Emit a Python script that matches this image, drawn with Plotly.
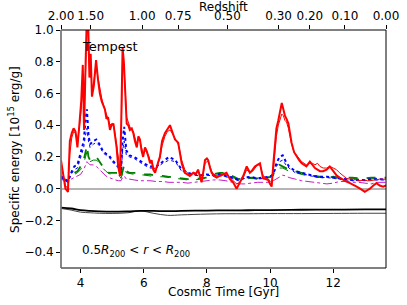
import plotly.graph_objects as go

# ---- data ----
t_red = [3.38,3.45,3.52,3.60,3.66,3.72,3.78,3.84,3.90,3.96,4.02,4.07,4.11,4.16,4.20,4.24,4.28,4.32,4.36,4.42,
         4.49,4.55,4.61,4.67,4.72,4.77,4.82,4.87,4.93,4.98,5.04,5.09,5.14,5.19,5.25,5.29,5.33,5.37,5.41,5.46,
         5.51,5.56,5.62,5.67,5.72,5.78,5.83,5.88,5.93,5.98,6.04,6.09,6.15,6.20,6.25,6.30,6.36,6.41,6.46,6.51,
         6.58,6.67,6.75,6.83,6.90,6.99,7.09,7.15,7.20,7.30,7.38,7.46,7.57,7.65,7.72,7.78,7.83,7.88,7.94,8.00,
         8.04,8.10,8.15,8.22,8.31,8.40,8.52,8.62,8.73,8.83,8.94,9.04,9.15,9.26,9.31,9.36,9.45,9.52,9.60,9.68,
         9.73,9.78,9.86,9.94,10.00,10.05,10.10,10.15,10.20,10.26,10.31,10.37,10.42,10.47,10.52,10.58,10.63,10.68,10.76,10.84,
         10.92,11.00,11.08,11.15,11.26,11.34,11.42,11.50,11.58,11.68,11.79,11.89,12.00,12.10,12.20,12.32,12.42,12.53,12.64,12.74,
         12.85,13.00,13.08,13.16,13.27,13.37,13.47,13.58,13.67]
red_a = [0.18,0.10,0.00,-0.02,0.30,0.35,0.38,0.36,0.26,0.40,0.55,0.78,0.37,0.80,1.10,1.05,0.70,0.85,0.58,0.65,
         0.81,0.69,0.60,0.55,0.52,0.50,0.44,0.45,0.37,0.40,0.41,0.33,0.26,0.14,0.08,0.45,0.89,0.80,0.64,0.41,
         0.40,0.37,0.38,0.35,0.30,0.26,0.33,0.31,0.24,0.20,0.26,0.24,0.20,0.16,0.18,0.12,0.10,0.14,0.17,0.20,
         0.30,0.35,0.38,0.40,0.36,0.31,0.29,0.22,0.16,0.10,0.09,0.08,0.10,0.09,0.12,0.08,0.04,0.10,0.18,0.19,
         0.18,0.13,0.10,0.08,0.07,0.08,0.09,0.10,0.06,0.04,0.00,0.035,0.08,0.14,0.12,0.10,0.12,0.14,0.15,0.16,
         0.11,0.065,0.06,0.055,0.03,0.013,0.15,0.29,0.38,0.43,0.48,0.54,0.50,0.46,0.44,0.41,0.35,0.29,0.23,0.20,
         0.18,0.16,0.15,0.14,0.17,0.15,0.13,0.12,0.11,0.11,0.12,0.14,0.11,0.085,0.07,0.055,0.045,0.035,0.025,0.013,
         0.00,-0.02,-0.01,0.00,0.02,0.035,0.02,0.013,0.02]
red_b = [0.16,0.09,0.02,0.00,0.22,0.32,0.36,0.35,0.30,0.38,0.50,0.70,0.45,0.75,1.05,1.00,0.75,0.80,0.62,0.68,
         0.78,0.70,0.62,0.57,0.53,0.50,0.46,0.44,0.40,0.41,0.40,0.35,0.28,0.18,0.12,0.40,0.82,0.78,0.60,0.45,
         0.42,0.39,0.37,0.36,0.32,0.28,0.31,0.30,0.26,0.22,0.24,0.23,0.21,0.18,0.17,0.14,0.12,0.13,0.16,0.19,
         0.27,0.33,0.36,0.37,0.35,0.32,0.28,0.23,0.18,0.12,0.10,0.09,0.10,0.10,0.11,0.09,0.06,0.09,0.16,0.17,
         0.17,0.14,0.11,0.09,0.08,0.08,0.09,0.09,0.07,0.05,0.03,0.04,0.07,0.12,0.11,0.10,0.11,0.13,0.15,0.15,
         0.12,0.08,0.07,0.06,0.05,0.04,0.10,0.22,0.33,0.40,0.44,0.47,0.46,0.43,0.42,0.38,0.33,0.28,0.23,0.21,
         0.19,0.17,0.16,0.15,0.16,0.16,0.15,0.16,0.14,0.13,0.13,0.14,0.13,0.12,0.10,0.08,0.065,0.06,0.06,0.055,
         0.05,0.055,0.05,0.05,0.055,0.06,0.06,0.06,0.06]

t_c = [3.38,3.5,3.6,3.7,3.8,3.9,4.0,4.1,4.15,4.2,4.25,4.3,4.4,4.5,4.6,4.7,4.8,4.9,5.0,5.1,
       5.2,5.28,5.33,5.38,5.45,5.55,5.7,5.85,6.0,6.2,6.4,6.6,6.8,7.0,7.2,7.4,7.6,7.8,8.0,8.2,
       8.4,8.6,8.8,9.0,9.2,9.4,9.6,9.8,10.0,10.1,10.2,10.3,10.4,10.5,10.6,10.8,11.0,11.2,11.4,11.6,
       11.8,12.0,12.2,12.4,12.6,12.8,13.0,13.2,13.4,13.67]
blue_a = [0.08,0.06,0.045,0.10,0.14,0.15,0.22,0.30,0.42,0.50,0.34,0.28,0.30,0.31,0.28,0.24,0.22,0.21,0.18,0.16,
          0.14,0.10,0.30,0.39,0.24,0.21,0.20,0.18,0.16,0.14,0.14,0.17,0.20,0.18,0.12,0.10,0.09,0.085,0.09,0.085,
          0.09,0.08,0.07,0.055,0.07,0.075,0.065,0.07,0.075,0.09,0.16,0.20,0.21,0.17,0.14,0.11,0.10,0.09,0.08,0.075,
          0.075,0.07,0.065,0.06,0.055,0.055,0.055,0.06,0.058,0.06]
blue_b = [0.07,0.055,0.04,0.09,0.12,0.13,0.19,0.26,0.33,0.38,0.30,0.26,0.28,0.29,0.27,0.23,0.21,0.20,0.17,0.15,
          0.13,0.09,0.24,0.30,0.21,0.20,0.19,0.17,0.15,0.13,0.13,0.16,0.18,0.17,0.11,0.09,0.085,0.08,0.085,0.08,
          0.085,0.075,0.065,0.05,0.065,0.07,0.06,0.065,0.07,0.085,0.14,0.17,0.18,0.15,0.13,0.10,0.095,0.085,0.075,0.07,
          0.07,0.065,0.06,0.055,0.05,0.05,0.05,0.055,0.055,0.055]
green_a = [0.07,0.06,0.05,0.08,0.10,0.11,0.14,0.18,0.22,0.27,0.20,0.18,0.19,0.20,0.17,0.14,0.12,0.10,0.10,0.10,
           0.10,0.07,0.12,0.15,0.11,0.10,0.10,0.10,0.09,0.09,0.08,0.08,0.075,0.07,0.065,0.06,0.06,0.065,0.07,0.09,
           0.10,0.10,0.08,0.06,0.065,0.07,0.065,0.07,0.075,0.09,0.13,0.15,0.14,0.13,0.12,0.11,0.10,0.085,0.08,0.075,
           0.07,0.075,0.07,0.07,0.07,0.065,0.065,0.07,0.07,0.07]
green_b = [0.065,0.055,0.045,0.07,0.09,0.10,0.12,0.16,0.19,0.23,0.18,0.17,0.18,0.18,0.16,0.13,0.11,0.095,0.09,0.09,
           0.09,0.065,0.10,0.13,0.10,0.095,0.09,0.09,0.085,0.08,0.075,0.075,0.07,0.065,0.06,0.055,0.055,0.06,0.065,0.08,
           0.09,0.09,0.075,0.055,0.06,0.065,0.06,0.065,0.07,0.08,0.11,0.13,0.13,0.12,0.11,0.10,0.09,0.08,0.075,0.07,
           0.065,0.07,0.065,0.065,0.065,0.06,0.06,0.065,0.065,0.065]
magenta = [0.06,0.05,0.04,0.06,0.07,0.08,0.09,0.12,0.15,0.17,0.16,0.15,0.15,0.14,0.12,0.10,0.08,0.07,0.06,0.055,
           0.05,0.05,0.07,0.08,0.06,0.06,0.055,0.05,0.05,0.05,0.045,0.045,0.04,0.04,0.04,0.035,0.04,0.045,0.05,0.055,
           0.055,0.05,0.04,0.03,0.03,0.035,0.04,0.04,0.04,0.05,0.06,0.075,0.085,0.08,0.07,0.06,0.05,0.045,0.04,0.035,
           0.03,0.035,0.045,0.045,0.04,0.04,0.035,0.03,0.04,0.04]

t_black = [3.38,3.7,4.0,4.3,4.6,5.0,5.5,5.9,6.3,6.75,7.2,8.0,8.6,9.3,10.0,11.0,12.0,13.0,13.67]
black_a = [-0.12,-0.125,-0.135,-0.14,-0.143,-0.145,-0.143,-0.14,-0.14,-0.142,-0.14,-0.138,-0.137,-0.136,-0.135,-0.133,-0.132,-0.131,-0.131]
black_b = [-0.125,-0.135,-0.148,-0.152,-0.155,-0.156,-0.152,-0.14,-0.155,-0.168,-0.165,-0.16,-0.158,-0.158,-0.157,-0.157,-0.156,-0.155,-0.155]

z_labels = ["2.00","1.50","1.00","0.75","0.50","0.30","0.20","0.10","0.00"]
z_times = [3.38,4.32,5.95,7.09,8.65,10.27,11.26,12.37,13.67]

x_ticks = [4,6,8,10,12]
y_ticks = [-0.4,-0.2,0.0,0.2,0.4,0.6,0.8,1.0]
x_range = [3.38,13.67]
y_range = [-0.5,1.0]

FONT = "DejaVu Sans"
fig = go.Figure()

def add(x, y, color, width, dash="solid", shape="linear"):
    fig.add_trace(go.Scatter(x=x, y=y, mode="lines", showlegend=False, hoverinfo="skip",
                             line=dict(color=color, width=width, dash=dash, shape=shape)))

add(t_black, black_b, "#444444", 1.0, shape="spline")
add(t_black, black_a, "black", 1.8, shape="spline")
add(t_c, magenta, "#bf00bf", 0.9, "dashdot")
add(t_c, green_b, "#008000", 1.0, "dash")
add(t_c, green_a, "#008000", 1.8, "dash")
add(t_c, blue_b, "#0000ff", 1.0, "dot")
add(t_c, blue_a, "#0000ff", 2.0, "dot")
add(t_red, red_b, "#ff0000", 1.0)
add(t_red, red_a, "#ff0000", 2.0)
# invisible trace for top axis
fig.add_trace(go.Scatter(x=x_range, y=[0, 0], xaxis="x2", mode="lines", showlegend=False,
                         hoverinfo="skip", line=dict(color="rgba(0,0,0,0)")))

fig.update_layout(
    width=407, height=305,
    margin=dict(l=61, r=21, t=30, b=37, autoexpand=False),
    paper_bgcolor="white", plot_bgcolor="white",
    font=dict(family=FONT, size=12, color="black"),
    xaxis=dict(range=x_range, tickvals=x_ticks, ticks="outside", ticklen=4, tickcolor="black",
               showgrid=False, zeroline=False, showline=False, automargin=False),
    xaxis2=dict(range=x_range, overlaying="x", side="top", tickvals=z_times,
                ticktext=z_labels, ticks="outside", ticklen=4, tickcolor="black", showgrid=False,
                zeroline=False, showline=False, automargin=False),
    yaxis=dict(range=y_range, tickvals=y_ticks, tickformat=".1f", ticks="outside", ticklen=4,
               tickcolor="black", showgrid=False, zeroline=True, zerolinecolor="#b4b4b4",
               zerolinewidth=1.5, showline=False, automargin=False),
    shapes=[
        dict(type="rect", xref="paper", yref="paper", x0=0, x1=1, y0=0, y1=1,
             line=dict(color="black", width=1)),
        dict(type="line", xref="paper", yref="paper", x0=0, x1=0, y0=0, y1=1,
             line=dict(color="#888888", width=1.5)),
    ],
    annotations=[
        dict(text="Tempest", xref="paper", yref="paper", x=0.058, y=0.93, xanchor="left",
             yanchor="middle", showarrow=False, font=dict(size=13)),
        dict(text="0.5<i>R</i><sub>200</sub> &lt; <i>r</i> &lt; <i>R</i><sub>200</sub>", xref="paper",
             yref="paper", x=0.058, y=0.07, xanchor="left", yanchor="middle", showarrow=False,
             font=dict(size=12)),
        dict(text="Cosmic Time [Gyr]", xref="paper", yref="paper", x=0.5, y=-0.1,
             xanchor="center", yanchor="middle", showarrow=False, font=dict(size=12)),
        dict(text="Redshift", xref="paper", yref="paper", x=0.5, y=1.097,
             xanchor="center", yanchor="middle", showarrow=False, font=dict(size=12)),
        dict(text="Specific energy [10<sup>15</sup> erg/g]", xref="paper", yref="paper",
             x=-0.145, y=0.5, xanchor="center", yanchor="middle", textangle=-90,
             showarrow=False, font=dict(size=12)),
    ],
)

fig.write_html("out.html", config={"displayModeBar": False},
               post_script="document.body.style.margin='0';document.body.style.overflow='hidden';")
